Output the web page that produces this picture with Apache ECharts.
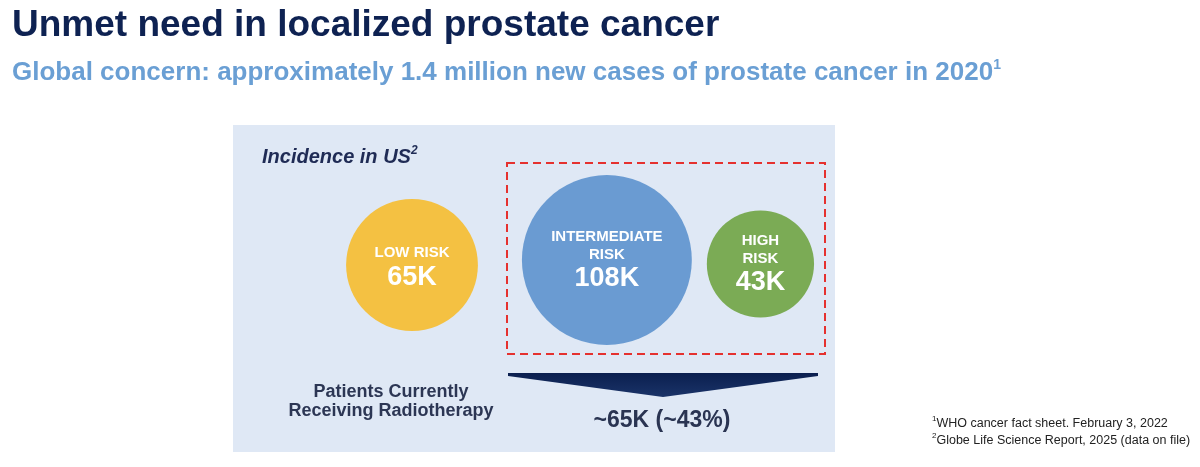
<!DOCTYPE html>
<html>
<head>
<meta charset="utf-8">
<title>Unmet need in localized prostate cancer</title>
<script src="https://cdn.jsdelivr.net/npm/echarts@6/dist/echarts.min.js"></script>
<style>
	html, body { margin: 0; padding: 0; background: #fff; }
	#main { width: 1200px; height: 467px; }
</style>
</head>
<body>
<div id="main"></div>
<script>
/* global echarts */
// 美国前列腺癌发病数（千例）
var riskNames = ['LOW RISK', 'INTERMEDIATE\nRISK', 'HIGH\nRISK'];
var incidence = [65, 108, 43];
var radiotherapyCases = 65;
var radiotherapyShare = 43;
var footnotes = [
	['1', 'WHO cancer fact sheet. February 3, 2022'],
	['2', 'Globe Life Science Report, 2025 (data on file)']
];

var palette = ['#f4c142', '#6a9bd2', '#7bab55'];
var FONT = '"Liberation Sans", Arial, sans-serif';
var navy = '#0e2252';

// bubble area ~ value; layout of the bubbles
var k = 16.35;
var firstX = 412, gaps = [44, 15];
var centerYs = [265, 260, 264];
var labelShift = [3.5, 1, 1];

var bubbleData = (function () {
	var list = [];
	var x = firstX;
	for (var i = 0; i < incidence.length; i++) {
		var d = k * Math.sqrt(incidence[i]);
		if (i > 0) {
			var prev = k * Math.sqrt(incidence[i - 1]);
			x += prev / 2 + gaps[i - 1] + d / 2;
		}
		list.push({
			name: riskNames[i],
			value: [x, centerYs[i], incidence[i]],
			symbolSize: d,
			itemStyle: { color: palette[i] },
			label: { offset: [0, labelShift[i]] }
		});
	}
	return list;
})();

var option = {
	animation: false,
	grid: { left: 0, right: 0, top: 0, bottom: 0 },
	xAxis: { type: 'value', min: 0, max: 1200, show: false },
	yAxis: { type: 'value', min: 0, max: 467, inverse: true, show: false },
	graphic: [
		{
			type: 'text', left: 12, top: 7, z: 5,
			style: { text: 'Unmet need in localized prostate cancer', fill: navy, font: 'bold 37px ' + FONT }
		},
		{
			type: 'text', left: 12, top: 58, z: 5,
			style: {
				text: '{t|Global concern: approximately 1.4 million new cases of prostate cancer in 2020}{s|1}',
				rich: {
					t: { fill: '#6a9fd4', font: 'bold 26px ' + FONT, lineHeight: 29 },
					s: { fill: '#6a9fd4', font: 'bold 14px ' + FONT, verticalAlign: 'top', lineHeight: 29 }
				}
			}
		},
		// panel
		{
			type: 'rect', z: 0,
			shape: { x: 233, y: 125, width: 602, height: 327 },
			style: { fill: '#dfe8f5' }
		},
		{
			type: 'text', left: 262, top: 145, z: 5,
			style: {
				text: '{t|Incidence in US}{s|2}',
				rich: {
					t: { fill: '#1f2b55', font: 'italic bold 20px ' + FONT, lineHeight: 24 },
					s: { fill: '#1f2b55', font: 'italic bold 12px ' + FONT, verticalAlign: 'top', lineHeight: 24 }
				}
			}
		},
		// dashed box round intermediate + high
		{
			type: 'rect', z: 3,
			shape: { x: 507, y: 163, width: 318, height: 191 },
			style: { fill: null, stroke: '#e5312f', lineWidth: 2, lineDash: [8, 5] }
		},
		{
			type: 'polygon', z: 3,
			shape: { points: [[508, 373], [818, 373], [818, 376], [663, 397], [508, 376]] },
			style: {
				fill: new echarts.graphic.LinearGradient(0, 0, 0, 1, [
					{ offset: 0, color: '#0b1f4f' },
					{ offset: 1, color: '#1a3368' }
				])
			}
		},
		{
			type: 'text', x: 391, y: 402, z: 5,
			style: {
				text: 'Patients Currently\nReceiving Radiotherapy',
				fill: '#2c3654', font: 'bold 18px ' + FONT, lineHeight: 19,
				align: 'center', verticalAlign: 'middle'
			}
		},
		{
			type: 'text', x: 662, y: 421, z: 5,
			style: {
				text: '~' + radiotherapyCases + 'K (~' + radiotherapyShare + '%)',
				fill: '#2a3452', font: 'bold 23px ' + FONT,
				align: 'center', verticalAlign: 'middle'
			}
		},
		{
			type: 'text', left: 932, top: 415, z: 5,
			style: {
				text: footnotes.map(function (f) { return '{s|' + f[0] + '}{t|' + f[1] + '}'; }).join('\n'),
				rich: {
					t: { fill: '#222', font: '12.5px ' + FONT, lineHeight: 17 },
					s: { fill: '#222', font: '8px ' + FONT, verticalAlign: 'top', lineHeight: 17 }
				}
			}
		}
	],
	series: [
		{
			type: 'scatter',
			z: 4,
			data: bubbleData,
			itemStyle: { opacity: 1 },
			label: {
				show: true,
				position: 'inside',
				formatter: function (p) {
					var lines = p.name.split('\n').map(function (s) { return '{n|' + s + '}'; });
					lines.push('{v|' + p.value[2] + 'K}');
					return lines.join('\n');
				},
				rich: {
					n: { color: '#fff', fontFamily: FONT, fontWeight: 'bold', fontSize: 15, lineHeight: 18 },
					v: { color: '#fff', fontFamily: FONT, fontWeight: 'bold', fontSize: 27, lineHeight: 31 }
				}
			}
		}
	]
};

var chart = echarts.init(document.getElementById('main'), null, { renderer: 'canvas' });
chart.setOption(option);
</script>
</body>
</html>
